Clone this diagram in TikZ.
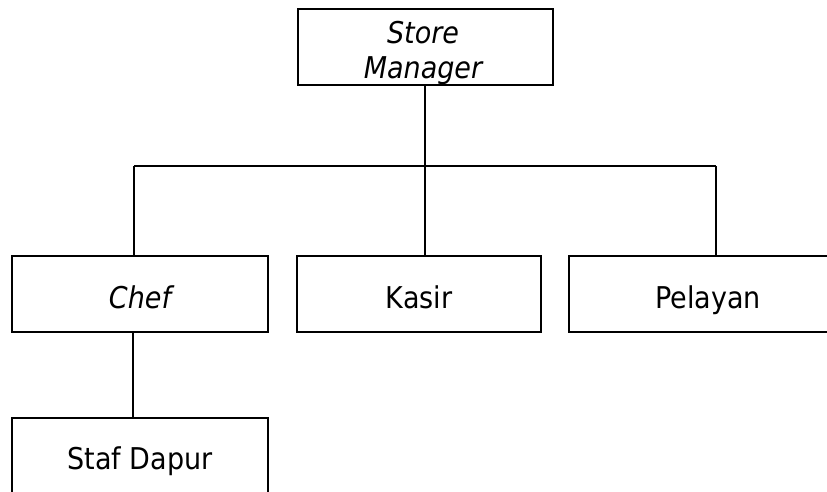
\documentclass[tikz,border=0pt]{standalone}
\usepackage{fontspec}
\setmainfont{DejaVu Sans Condensed}
\begin{document}
\begin{tikzpicture}[x=1pt,y=-1pt,
  boxfont/.style={font=\fontsize{30}{35}\selectfont},
  box/.style={draw=black, line width=2.2pt, rectangle, inner sep=0pt, align=center,
    text height=31pt, text depth=3pt, boxfont},
  topbox/.style={draw=black, line width=2.8pt, rectangle, inner sep=0pt},
  link/.style={draw=black, line width=1.1pt}]
\useasboundingbox (0,0) rectangle (827,492);
\node[topbox, minimum width=255pt, minimum height=76pt] (sm) at (425.5,47) {};
\node[boxfont, align=center, inner sep=0pt] (smtext) at (423,53) {\itshape Store\\\itshape Manager};
\node[box, minimum width=256pt, minimum height=76pt] (chef) at (140,294) {\itshape Chef};
\node[box, minimum width=244pt, minimum height=76pt] (kasir) at (419,294) {Kasir};
\node[box, minimum width=278pt, minimum height=76pt] (pelayan) at (708,294) {Pelayan};
\node[box, minimum width=256pt, minimum height=84pt, text height=24pt, text depth=6pt] (staf) at (140,460) {Staf Dapur};
\coordinate (jl) at (134,166);
\coordinate (jm) at (425,166);
\coordinate (jr) at (716,166);
\draw[link] (sm.south -| jm) -- (kasir.north -| jm);
\draw[link] (jl) -- (jr);
\draw[link] (jl) -- (jl |- chef.north);
\draw[link] (jr) -- (jr |- pelayan.north);
\draw[link] ([xshift=-7pt]chef.south) -- ([xshift=-7pt]staf.north);
\end{tikzpicture}
\end{document}
